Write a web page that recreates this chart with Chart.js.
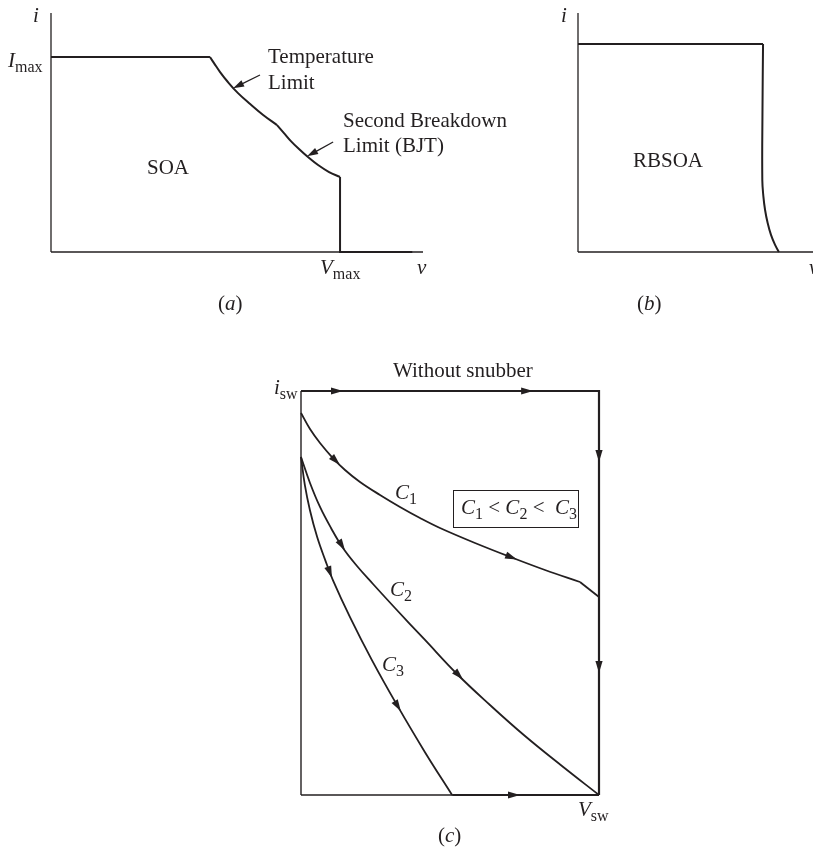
<!DOCTYPE html>
<html>
<head>
<meta charset="utf-8">
<script src="https://cdn.jsdelivr.net/npm/chart.js@4.4.0/dist/chart.umd.min.js"></script>
<style>
html, body { margin: 0; padding: 0; background: #fff; overflow: hidden; width: 813px; height: 849px; }
canvas { position: absolute; }
.lbl { position: absolute; font-family: "Liberation Serif", "Times New Roman", serif; font-size: 21px; line-height: 1; color: #231f20; white-space: nowrap; }
.lbl i { font-style: italic; }
.lbl sub { font-size: 16px; vertical-align: -5px; line-height: 0; }
.box { position: absolute; border: 1.3px solid #231f20; }
</style>
</head>
<body>
<canvas id="chartA" width="440" height="280" style="left:0;top:0"></canvas>
<canvas id="chartB" width="253" height="280" style="left:560px;top:0"></canvas>
<canvas id="chartC" width="360" height="430" style="left:260px;top:380px"></canvas>
<div class="box" style="left:453px;top:490px;width:124px;height:36px"></div>
<script>
// (a) SOA: v in % of Vmax, i in % of Imax
const soaFlatV = [0, 55];
const soaFlatI = [100, 100];
const soaTempV = [55, 56.4, 58.5, 61.2, 64.7, 68.9, 73.4, 78.2];
const soaTempI = [100, 96.9, 92.3, 87.2, 81.5, 75.9, 70.3, 65.1];
const soaBreakV = [78.2, 80.6, 83, 85.8, 88.9, 92.4, 96.2, 100];
const soaBreakI = [65.1, 61, 56.9, 52.8, 48.7, 44.6, 41, 38.5];
const soaEdgeV = [100, 100, 125];
const soaEdgeI = [38.5, 0, 0];
const axisAMax = [128.7, 122.6];

// (b) RBSOA
const rbTopV = [0, 100];
const rbTopI = [100, 100];
const rbEdgeV = [100, 99.7, 99.6, 100.2, 101.1, 102.5, 104.3, 106.5, 108.6];
const rbEdgeI = [100, 68.3, 34.6, 26.6, 20.2, 13.9, 8.2, 3.4, 0];
const axisBMax = [127, 114.9];

// (c) switching trajectories, v and i in % of Vsw / isw
const noSnubV = [0, 100, 100];
const noSnubI = [100, 100, 0];
const c1V = [0, 3.02, 6.38, 10.4, 14.77, 19.8, 26.51, 33.22, 39.93, 46.64, 58.39, 71.14, 81.88, 93.62];
const c1I = [94.55, 90.59, 87.13, 83.66, 80.45, 77.48, 74.26, 71.29, 68.56, 66.09, 62.38, 58.66, 55.69, 52.72];
const c1EndV = [93.62, 100];
const c1EndI = [52.72, 49];
const c2V = [0, 3.02, 6.38, 10.07, 14.09, 18.79, 24.16, 31.54, 41.61, 52.35, 63.42, 75.17, 87.58, 100];
const c2I = [83.66, 77.23, 71.29, 66.09, 61.14, 56.68, 52.23, 46.29, 38.37, 29.95, 22.28, 14.6, 7.18, 0];
const c3V = [0, 1.3, 3, 5.4, 8.1, 10.7, 16.4, 23.8, 32.2, 41.6, 50.7];
const c3I = [83.7, 76.7, 70.5, 63.9, 58.2, 53.2, 44.1, 33.4, 22.3, 10.6, 0];

const INK = '#231f20';

function pts(xs, ys) {
    return xs.map((v, k) => ({ x: v, y: ys[k] }));
}

function line(xs, ys, width, curve) {
    return {
        data: pts(xs, ys),
        showLine: true,
        borderColor: INK,
        borderWidth: width,
        pointRadius: 0,
        clip: false,
        tension: curve ? 0.4 : 0,
        borderJoinStyle: 'miter'
    };
}

// arrowheads placed in data units, direction taken from a point behind the tip
const arrowPlugin = {
    id: 'arrows',
    afterDatasetsDraw(chart, args, opts) {
        const ctx = chart.ctx;
        const sx = chart.scales.x, sy = chart.scales.y;
        (opts.list || []).forEach(a => {
            const x0 = sx.getPixelForValue(a.from[0]), y0 = sy.getPixelForValue(a.from[1]);
            const x1 = sx.getPixelForValue(a.to[0]), y1 = sy.getPixelForValue(a.to[1]);
            const ang = Math.atan2(y1 - y0, x1 - x0);
            const len = a.len || 12, hw = a.hw || 3.6;
            ctx.save();
            ctx.strokeStyle = INK;
            ctx.fillStyle = INK;
            if (a.shaft) {
                ctx.lineWidth = 1.3;
                ctx.beginPath();
                ctx.moveTo(x0, y0);
                ctx.lineTo(x1 - Math.cos(ang) * len * 0.8, y1 - Math.sin(ang) * len * 0.8);
                ctx.stroke();
            }
            ctx.translate(x1, y1);
            ctx.rotate(ang);
            ctx.beginPath();
            ctx.moveTo(0, 0);
            ctx.lineTo(-len, -hw);
            ctx.lineTo(-len, hw);
            ctx.closePath();
            ctx.fill();
            ctx.restore();
        });
    }
};

function makeChart(id, pad, maxes, datasets, arrows) {
    return new Chart(document.getElementById(id), {
        type: 'scatter',
        data: { datasets: datasets },
        options: {
            responsive: false,
            animation: false,
            devicePixelRatio: 1,
            events: [],
            layout: { padding: pad },
            scales: {
                x: { type: 'linear', display: false, min: 0, max: maxes[0] },
                y: { type: 'linear', display: false, min: 0, max: maxes[1] }
            },
            plugins: {
                legend: { display: false },
                tooltip: { enabled: false },
                arrows: { list: arrows }
            }
        },
        plugins: [arrowPlugin]
    });
}

makeChart('chartA', { left: 51, right: 17, top: 13, bottom: 28 }, axisAMax, [
    line([0, 0], [0, axisAMax[1]], 1.3),
    line([0, axisAMax[0]], [0, 0], 1.3),
    line(soaFlatV, soaFlatI, 2),
    line(soaTempV, soaTempI, 2, true),
    line(soaBreakV, soaBreakI, 2, true),
    line(soaEdgeV, soaEdgeI, 2)
], [
    { from: [72.3, 90.8], to: [63, 84], shaft: true, len: 11, hw: 3.5 },
    { from: [97.6, 56.4], to: [88.6, 49.1], shaft: true, len: 11, hw: 3.5 }
]);

makeChart('chartB', { left: 18, right: 0, top: 13, bottom: 28 }, axisBMax, [
    line([0, 0], [0, axisBMax[1]], 1.3),
    line([0, axisBMax[0]], [0, 0], 1.3),
    line(rbTopV, rbTopI, 2),
    line(rbEdgeV, rbEdgeI, 2, true)
], []);

makeChart('chartC', { left: 41, right: 21, top: 11, bottom: 15 }, [100, 100], [
    line([0, 0], [0, 100], 1.4),
    line([0, 50.7], [0, 0], 1.4),
    line(noSnubV, noSnubI, 2.2),
    line([50.7, 100], [0, 0], 2.2),
    line(c1V, c1I, 1.8, true),
    line(c1EndV, c1EndI, 1.8),
    line(c2V, c2I, 1.8, true),
    line(c3V, c3I, 1.8, true)
], [
    { from: [0, 100], to: [14.1, 100] },
    { from: [60, 100], to: [77.9, 100] },
    { from: [100, 100], to: [100, 82.4] },
    { from: [100, 50], to: [100, 30.2] },
    { from: [50.7, 0], to: [73.5, 0] },
    { from: [10.4, 83.66], to: [13.09, 81.68] },
    { from: [58.39, 62.38], to: [72.5, 58.29] },
    { from: [10.07, 66.09], to: [14.77, 60.5] },
    { from: [41.61, 38.37], to: [54.36, 28.56] },
    { from: [8.1, 58.2], to: [10.4, 53.7] },
    { from: [28, 27.5], to: [33.5, 20.7] }
]);

// text labels, x = left edge, b = baseline (page pixels)
const labels = [
    { html: '<i>i</i>', x: 33, b: 23 },
    { html: '<i>I</i><sub>max</sub>', x: 8, b: 68 },
    { html: 'Temperature', x: 268, b: 64 },
    { html: 'Limit', x: 268, b: 90 },
    { html: 'Second Breakdown', x: 343, b: 128 },
    { html: 'Limit (BJT)', x: 343, b: 153 },
    { html: 'SOA', x: 147, b: 175 },
    { html: '<i>V</i><sub>max</sub>', x: 320, b: 275 },
    { html: '<i>v</i>', x: 417, b: 275 },
    { html: '(<i>a</i>)', x: 218, b: 311 },
    { html: '<i>i</i>', x: 561, b: 23 },
    { html: 'RBSOA', x: 633, b: 168 },
    { html: '<i>v</i>', x: 809, b: 275 },
    { html: '(<i>b</i>)', x: 637, b: 311 },
    { html: 'Without snubber', x: 393, b: 378 },
    { html: '<i>i</i><sub>sw</sub>', x: 274, b: 395 },
    { html: '<i>C</i><sub>1</sub>', x: 395, b: 500 },
    { html: '<i>C</i><sub>1</sub> &lt; <i>C</i><sub>2</sub> &lt;&nbsp; <i>C</i><sub>3</sub>', x: 461, b: 515 },
    { html: '<i>C</i><sub>2</sub>', x: 390, b: 597 },
    { html: '<i>C</i><sub>3</sub>', x: 382, b: 672 },
    { html: '<i>V</i><sub>sw</sub>', x: 578, b: 817 },
    { html: '(<i>c</i>)', x: 438, b: 843 }
];

labels.forEach(l => {
    const el = document.createElement('div');
    el.className = 'lbl';
    el.innerHTML = l.html;
    el.style.left = l.x + 'px';
    el.style.top = (l.b - 0.8375 * 21) + 'px';
    document.body.appendChild(el);
});
</script>
</body>
</html>
